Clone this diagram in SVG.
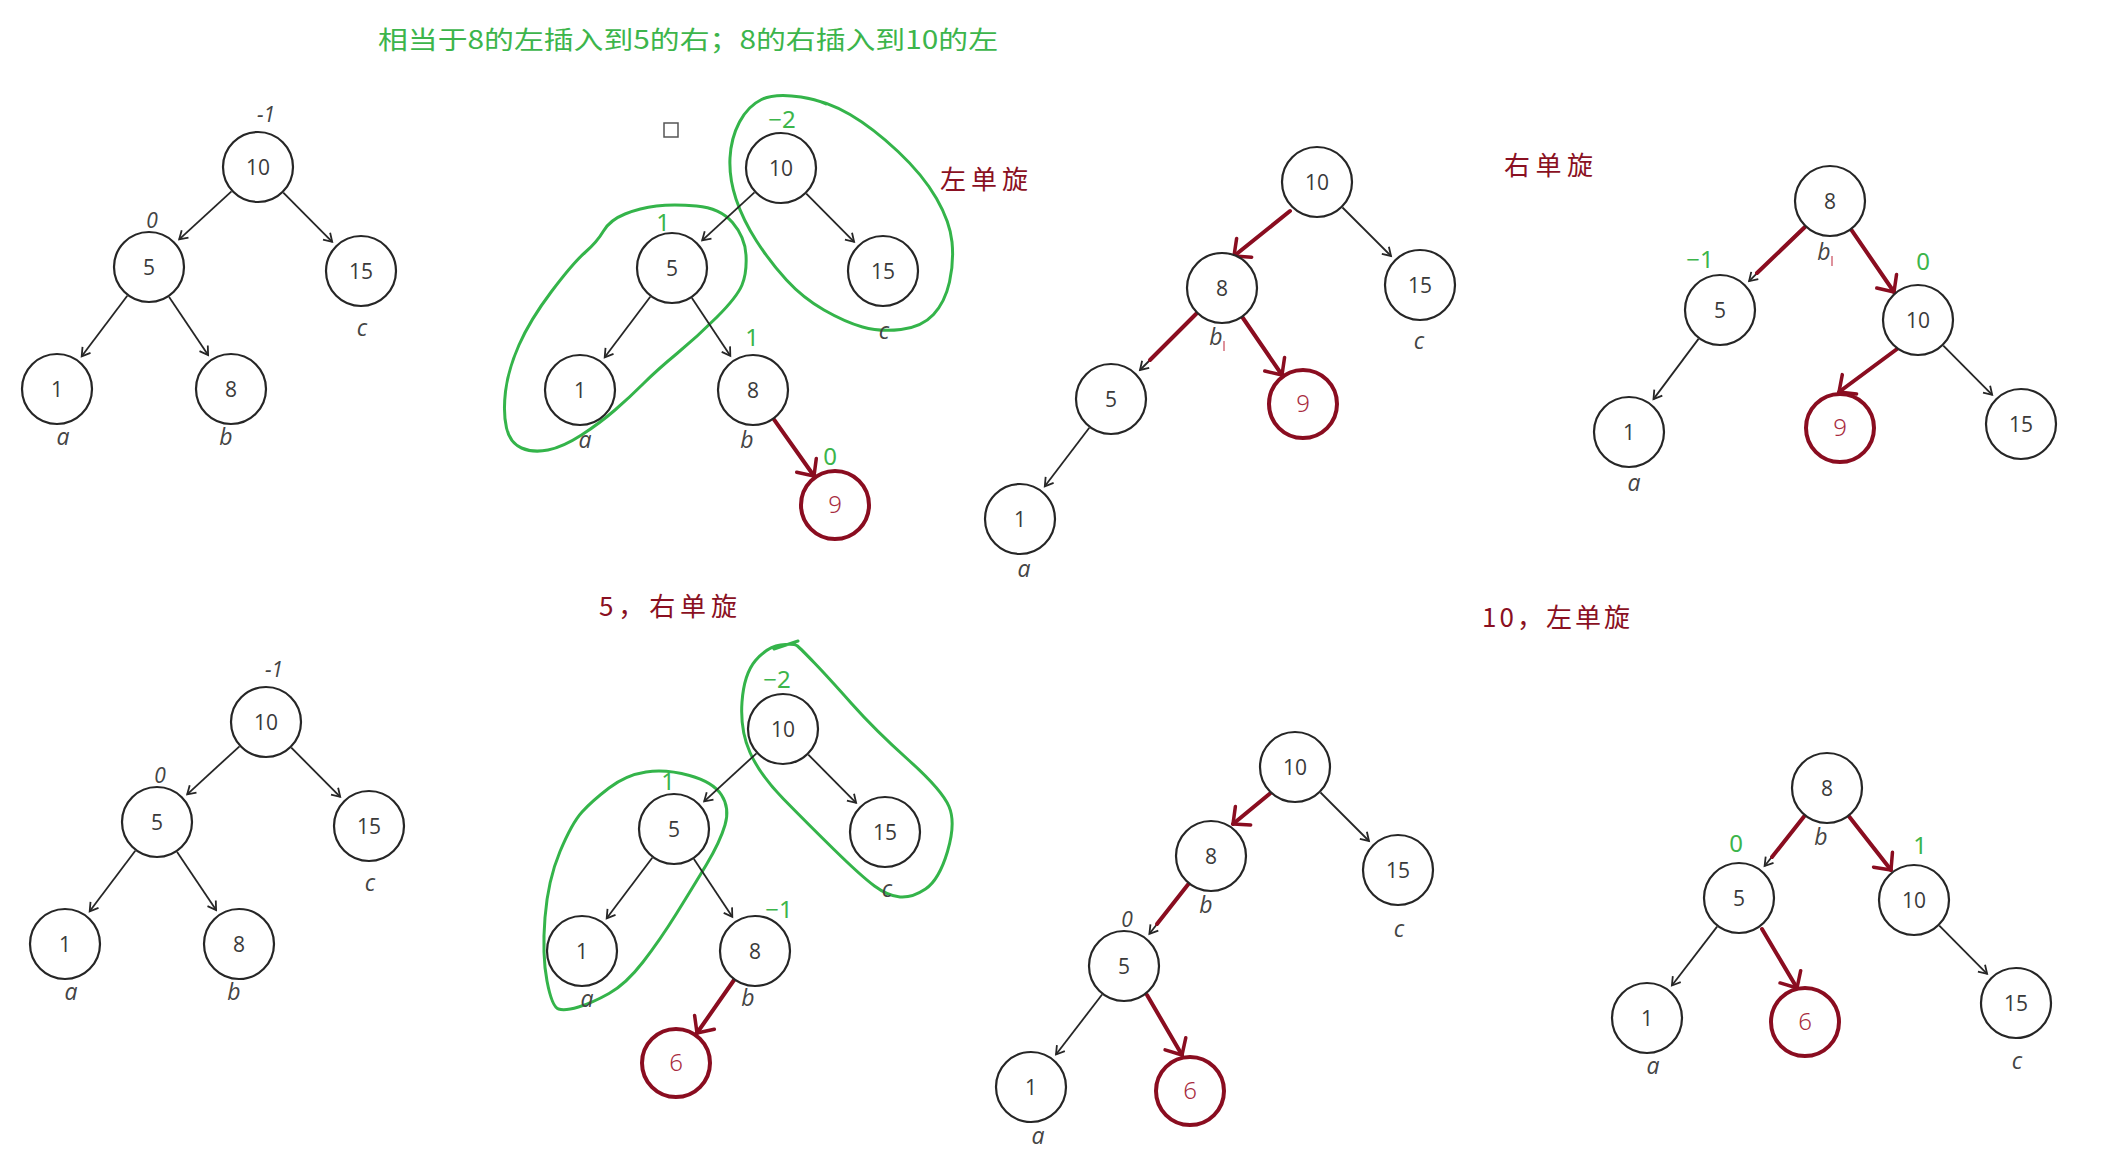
<svg xmlns="http://www.w3.org/2000/svg" width="2110" height="1167" viewBox="0 0 2110 1167">
<style>
.n circle{fill:#fff;stroke:#262626;stroke-width:2.2}
.n text{font-family:"Open Sans","Noto Sans",sans-serif;font-size:21px;fill:#3a3a3a;text-anchor:middle}
.r circle{fill:#fff;stroke:#8a0d20;stroke-width:4}
.r text{font-family:"Noto Sans","Open Sans",sans-serif;font-weight:300;font-size:24px;fill:#a82b40;text-anchor:middle}
.lab{font-family:"Open Sans","Noto Sans",sans-serif;font-style:italic;font-size:23px;fill:#444;text-anchor:middle}
.bf{font-family:"Open Sans","Noto Sans",sans-serif;font-style:italic;font-size:21px;fill:#444;text-anchor:middle}
.g{font-family:"Noto Sans","Open Sans",sans-serif;font-size:24px;fill:#3cb54b;text-anchor:middle}
.cn{font-family:"Noto Sans CJK SC","Noto Sans",sans-serif;font-size:26px;fill:#8a1022}
.title{font-family:"Noto Sans CJK SC","Noto Sans",sans-serif;font-size:25px;fill:#3cb54b}
.e{stroke:#262626;stroke-width:1.8;fill:none;marker-end:url(#ah)}
.re{stroke:#8a0d20;stroke-width:4;stroke-linecap:round;fill:none;marker-end:url(#rah)}
.rl{stroke:#8a0d20;stroke-width:4;stroke-linecap:round;fill:none}
.loop{fill:none;stroke:#34b44a;stroke-width:3;stroke-linecap:round;stroke-linejoin:round}
.tick{stroke:#c8485a;stroke-width:1.2}
</style>
<defs>
<marker id="ah" markerUnits="userSpaceOnUse" markerWidth="12" markerHeight="12" refX="8" refY="5" orient="auto" overflow="visible">
<path d="M0,0 L8,5 L0,10" fill="none" stroke="#262626" stroke-width="1.8" stroke-linejoin="miter"/>
</marker>
<marker id="rah" markerUnits="userSpaceOnUse" markerWidth="18" markerHeight="28" refX="13" refY="12" orient="auto" overflow="visible">
<path d="M0,0 L13,12 L0,24" fill="none" stroke="#8a0d20" stroke-width="3.5" stroke-linecap="round" stroke-linejoin="round"/>
</marker>
</defs>
<rect width="2110" height="1167" fill="#fff"/>

<g id="annotations">
<text class="title" x="378" y="49" textLength="620" lengthAdjust="spacingAndGlyphs">相当于8的左插入到5的右；8的右插入到10的左</text>
<text class="cn" x="940" y="189" textLength="88" lengthAdjust="spacing">左单旋</text>
<text class="cn" x="1504" y="175" textLength="89" lengthAdjust="spacing">右单旋</text>
<text class="cn" x="599" y="616" textLength="138" lengthAdjust="spacing">5，右单旋</text>
<text class="cn" x="1482" y="627" textLength="148" lengthAdjust="spacing">10，左单旋</text>
<rect x="664" y="123" width="14" height="14" fill="none" stroke="#555" stroke-width="1.5"/>
</g>

<g id="loops">
<path class="loop" d="M801,97 Q827,101 850,114.5 Q873,128 898,151.5 Q923,175 936.5,198.5 Q950,222 952,242 Q954,262 949.5,282 Q945,302 933.5,314.5 Q922,327 901,329.5 Q880,332 862.5,327 Q845,322 824,310 Q803,298 786.5,280 Q770,262 756.5,241 Q743,220 736,199 Q729,178 730,158 Q731,138 739.5,122 Q748,106 761.5,99.5 Q775,93 801,97 Q815,99 826,104"/>
<path class="loop" d="M696.5,206 Q720,208 732.5,222.5 Q745,237 746,255 Q747,273 742,285 Q737,297 717,317 Q697,337 677,353.5 Q657,370 643.5,383.5 Q630,397 615,410 Q600,423 581.5,435 Q563,447 548,450 Q533,453 521.5,448 Q510,443 506.5,428 Q503,413 505.5,391.5 Q508,370 519,345 Q530,320 551.5,291.5 Q573,263 585,252.5 Q597,242 603.5,231 Q610,220 625,214 Q640,208 656.5,206 Q673,204 696.5,206"/>
<path class="loop" d="M780.5,645 Q767,647 755.5,660.5 Q744,674 742,702 Q740,730 750,752.5 Q760,775 783.5,799 Q807,823 834,849.5 Q861,876 874.5,886 Q888,896 900,897 Q912,898 925.5,889 Q939,880 947.5,851.5 Q956,823 949,806.5 Q942,790 908.5,760 Q875,730 851.5,703.5 Q828,677 814.5,663 Q801,649 797.5,646 Q794,643 780.5,645 M774,649 L798,641"/>
<path class="loop" d="M689.5,775.5 Q713,782 721.5,795 Q730,808 725,825 Q720,842 706.5,864.5 Q693,887 676.5,913.5 Q660,940 643,962 Q626,984 609,993.5 Q592,1003 578.5,1007 Q565,1011 558.5,1009 Q552,1007 547,981 Q542,955 545,917.5 Q548,880 560,851.5 Q572,823 582,812 Q592,801 609,788 Q626,775 646,772 Q666,769 689.5,775.5"/>
</g>

<g id="connectors">
<line class="e" x1="231.5" y1="191.3" x2="179.2" y2="239.3"/>
<line class="e" x1="283.3" y1="192.6" x2="332.2" y2="241.9"/>
<line class="e" x1="127.3" y1="295.7" x2="81.7" y2="356.3"/>
<line class="e" x1="169.1" y1="296.9" x2="208.1" y2="355"/>
<line class="e" x1="754.5" y1="192.3" x2="702.2" y2="240.3"/>
<line class="e" x1="806.3" y1="193.6" x2="854.1" y2="241.9"/>
<line class="e" x1="650.3" y1="296.7" x2="604.7" y2="357.3"/>
<line class="e" x1="691.9" y1="297.9" x2="730.3" y2="355.8"/>
<line class="re" x1="773.9" y1="419.3" x2="814" y2="476"/>
<line class="re" x1="1290" y1="211" x2="1234" y2="256"/>
<line class="e" x1="1342.5" y1="207.5" x2="1391" y2="256"/>
<line class="e" x1="1196.5" y1="313.5" x2="1140" y2="370"/>
<line class="rl" x1="1196.5" y1="313.5" x2="1150" y2="360"/>
<line class="re" x1="1242.6" y1="317.5" x2="1282" y2="375"/>
<line class="e" x1="1089.3" y1="427.7" x2="1044.8" y2="486.3"/>
<line class="e" x1="1804.4" y1="226.3" x2="1749.1" y2="281.1"/>
<line class="rl" x1="1806" y1="226" x2="1757" y2="273"/>
<line class="re" x1="1851.4" y1="229.9" x2="1894" y2="292"/>
<line class="e" x1="1698.5" y1="338.9" x2="1653.5" y2="399.1"/>
<line class="re" x1="1897" y1="349" x2="1839" y2="392"/>
<line class="e" x1="1943.3" y1="345.6" x2="1992.2" y2="394.9"/>
<line class="e" x1="239.5" y1="746.3" x2="187.2" y2="794.3"/>
<line class="e" x1="291.3" y1="747.6" x2="340.2" y2="796.9"/>
<line class="e" x1="135.3" y1="850.7" x2="89.7" y2="911.3"/>
<line class="e" x1="177.1" y1="851.9" x2="216.1" y2="910"/>
<line class="e" x1="756.5" y1="753.3" x2="704.2" y2="801.3"/>
<line class="e" x1="808.3" y1="754.6" x2="856.1" y2="802.9"/>
<line class="e" x1="652.3" y1="857.7" x2="606.7" y2="918.3"/>
<line class="e" x1="693.9" y1="858.9" x2="732.3" y2="916.8"/>
<line class="re" x1="734.4" y1="979.5" x2="697" y2="1033"/>
<line class="re" x1="1270.3" y1="793.2" x2="1233" y2="824"/>
<line class="e" x1="1320.5" y1="792.5" x2="1369" y2="841"/>
<line class="e" x1="1188.7" y1="884.2" x2="1149.4" y2="933.8"/>
<line class="rl" x1="1190" y1="882" x2="1157" y2="924"/>
<line class="e" x1="1102.1" y1="994.5" x2="1056" y2="1054.5"/>
<line class="re" x1="1147" y1="995" x2="1182" y2="1055"/>
<line class="e" x1="1804.5" y1="816.1" x2="1764.6" y2="866"/>
<line class="rl" x1="1806" y1="814" x2="1772" y2="857"/>
<line class="re" x1="1849.1" y1="816.4" x2="1891" y2="870"/>
<line class="e" x1="1717.1" y1="926.6" x2="1671.9" y2="985.5"/>
<line class="re" x1="1762" y1="929" x2="1797" y2="988"/>
<line class="e" x1="1939.3" y1="925.6" x2="1987.1" y2="973.9"/>
</g>

<g id="t1-10" class="n"><circle cx="258" cy="167" r="35"/><text x="258" y="174.5">10</text></g>
<g id="t1-5" class="n"><circle cx="149" cy="267" r="35"/><text x="149" y="274.5">5</text></g>
<g id="t1-15" class="n"><circle cx="361" cy="271" r="35"/><text x="361" y="278.5">15</text></g>
<g id="t1-1" class="n"><circle cx="57" cy="389" r="35"/><text x="57" y="396.5">1</text></g>
<g id="t1-8" class="n"><circle cx="231" cy="389" r="35"/><text x="231" y="396.5">8</text></g>
<g id="t1-labels">
<text class="bf" x="266" y="122">-1</text>
<text class="bf" x="152" y="228">0</text>
<text class="lab" x="362" y="336">c</text>
<text class="lab" x="63" y="445">a</text>
<text class="lab" x="226" y="445">b</text>
</g>

<g id="t2-10" class="n"><circle cx="781" cy="168" r="35"/><text x="781" y="175.5">10</text></g>
<g id="t2-5" class="n"><circle cx="672" cy="268" r="35"/><text x="672" y="275.5">5</text></g>
<g id="t2-15" class="n"><circle cx="883" cy="271" r="35"/><text x="883" y="278.5">15</text></g>
<g id="t2-1" class="n"><circle cx="580" cy="390" r="35"/><text x="580" y="397.5">1</text></g>
<g id="t2-8" class="n"><circle cx="753" cy="390" r="35"/><text x="753" y="397.5">8</text></g>
<g id="t2-9" class="r"><circle cx="835" cy="505" r="34"/><text x="835" y="513">9</text></g>
<g id="t2-labels">
<text class="g" x="782" y="128">−2</text>
<text class="g" x="663" y="231">1</text>
<text class="g" x="752" y="346">1</text>
<text class="g" x="830" y="465">0</text>
<text class="lab" x="585" y="448">a</text>
<text class="lab" x="747" y="448">b</text>
<text class="lab" x="884" y="339">c</text>
</g>

<g id="t3-10" class="n"><circle cx="1317" cy="182" r="35"/><text x="1317" y="189.5">10</text></g>
<g id="t3-8" class="n"><circle cx="1222" cy="288" r="35"/><text x="1222" y="295.5">8</text></g>
<g id="t3-15" class="n"><circle cx="1420" cy="285" r="35"/><text x="1420" y="292.5">15</text></g>
<g id="t3-5" class="n"><circle cx="1111" cy="399" r="35"/><text x="1111" y="406.5">5</text></g>
<g id="t3-9" class="r"><circle cx="1303" cy="404" r="34"/><text x="1303" y="412">9</text></g>
<g id="t3-1" class="n"><circle cx="1020" cy="519" r="35"/><text x="1020" y="526.5">1</text></g>
<g id="t3-labels">
<text class="lab" x="1216" y="345">b</text>
<line class="tick" x1="1224" y1="341" x2="1224" y2="351"/>
<text class="lab" x="1419" y="349">c</text>
<text class="lab" x="1024" y="577">a</text>
</g>

<g id="t4-8" class="n"><circle cx="1830" cy="201" r="35"/><text x="1830" y="208.5">8</text></g>
<g id="t4-5" class="n"><circle cx="1720" cy="310" r="35"/><text x="1720" y="317.5">5</text></g>
<g id="t4-10" class="n"><circle cx="1918" cy="320" r="35"/><text x="1918" y="327.5">10</text></g>
<g id="t4-1" class="n"><circle cx="1629" cy="432" r="35"/><text x="1629" y="439.5">1</text></g>
<g id="t4-9" class="r"><circle cx="1840" cy="428" r="34"/><text x="1840" y="436">9</text></g>
<g id="t4-15" class="n"><circle cx="2021" cy="424" r="35"/><text x="2021" y="431.5">15</text></g>
<g id="t4-labels">
<text class="lab" x="1824" y="260">b</text>
<line class="tick" x1="1832" y1="256" x2="1832" y2="266"/>
<text class="g" x="1700" y="268">−1</text>
<text class="g" x="1923" y="270">0</text>
<text class="lab" x="1634" y="491">a</text>
</g>

<g id="t5-10" class="n"><circle cx="266" cy="722" r="35"/><text x="266" y="729.5">10</text></g>
<g id="t5-5" class="n"><circle cx="157" cy="822" r="35"/><text x="157" y="829.5">5</text></g>
<g id="t5-15" class="n"><circle cx="369" cy="826" r="35"/><text x="369" y="833.5">15</text></g>
<g id="t5-1" class="n"><circle cx="65" cy="944" r="35"/><text x="65" y="951.5">1</text></g>
<g id="t5-8" class="n"><circle cx="239" cy="944" r="35"/><text x="239" y="951.5">8</text></g>
<g id="t5-labels">
<text class="bf" x="274" y="677">-1</text>
<text class="bf" x="160" y="783">0</text>
<text class="lab" x="370" y="891">c</text>
<text class="lab" x="71" y="1000">a</text>
<text class="lab" x="234" y="1000">b</text>
</g>

<g id="t6-10" class="n"><circle cx="783" cy="729" r="35"/><text x="783" y="736.5">10</text></g>
<g id="t6-5" class="n"><circle cx="674" cy="829" r="35"/><text x="674" y="836.5">5</text></g>
<g id="t6-15" class="n"><circle cx="885" cy="832" r="35"/><text x="885" y="839.5">15</text></g>
<g id="t6-1" class="n"><circle cx="582" cy="951" r="35"/><text x="582" y="958.5">1</text></g>
<g id="t6-8" class="n"><circle cx="755" cy="951" r="35"/><text x="755" y="958.5">8</text></g>
<g id="t6-6" class="r"><circle cx="676" cy="1063" r="34"/><text x="676" y="1071">6</text></g>
<g id="t6-labels">
<text class="g" x="777" y="688">−2</text>
<text class="g" x="668" y="790">1</text>
<text class="g" x="779" y="918">−1</text>
<text class="lab" x="587" y="1007">a</text>
<text class="lab" x="748" y="1006">b</text>
<text class="lab" x="887" y="897">c</text>
</g>

<g id="t7-10" class="n"><circle cx="1295" cy="767" r="35"/><text x="1295" y="774.5">10</text></g>
<g id="t7-8" class="n"><circle cx="1211" cy="856" r="35"/><text x="1211" y="863.5">8</text></g>
<g id="t7-15" class="n"><circle cx="1398" cy="870" r="35"/><text x="1398" y="877.5">15</text></g>
<g id="t7-5" class="n"><circle cx="1124" cy="966" r="35"/><text x="1124" y="973.5">5</text></g>
<g id="t7-6" class="r"><circle cx="1190" cy="1091" r="34"/><text x="1190" y="1099">6</text></g>
<g id="t7-1" class="n"><circle cx="1031" cy="1087" r="35"/><text x="1031" y="1094.5">1</text></g>
<g id="t7-labels">
<text class="lab" x="1206" y="913">b</text>
<text class="bf" x="1127" y="927">0</text>
<text class="lab" x="1399" y="937">c</text>
<text class="lab" x="1038" y="1144">a</text>
</g>

<g id="t8-8" class="n"><circle cx="1827" cy="788" r="35"/><text x="1827" y="795.5">8</text></g>
<g id="t8-5" class="n"><circle cx="1739" cy="898" r="35"/><text x="1739" y="905.5">5</text></g>
<g id="t8-10" class="n"><circle cx="1914" cy="900" r="35"/><text x="1914" y="907.5">10</text></g>
<g id="t8-1" class="n"><circle cx="1647" cy="1018" r="35"/><text x="1647" y="1025.5">1</text></g>
<g id="t8-6" class="r"><circle cx="1805" cy="1022" r="34"/><text x="1805" y="1030">6</text></g>
<g id="t8-15" class="n"><circle cx="2016" cy="1003" r="35"/><text x="2016" y="1010.5">15</text></g>
<g id="t8-labels">
<text class="lab" x="1821" y="845">b</text>
<text class="g" x="1736" y="852">0</text>
<text class="g" x="1920" y="854">1</text>
<text class="lab" x="1653" y="1074">a</text>
<text class="lab" x="2017" y="1069">c</text>
</g>
</svg>
